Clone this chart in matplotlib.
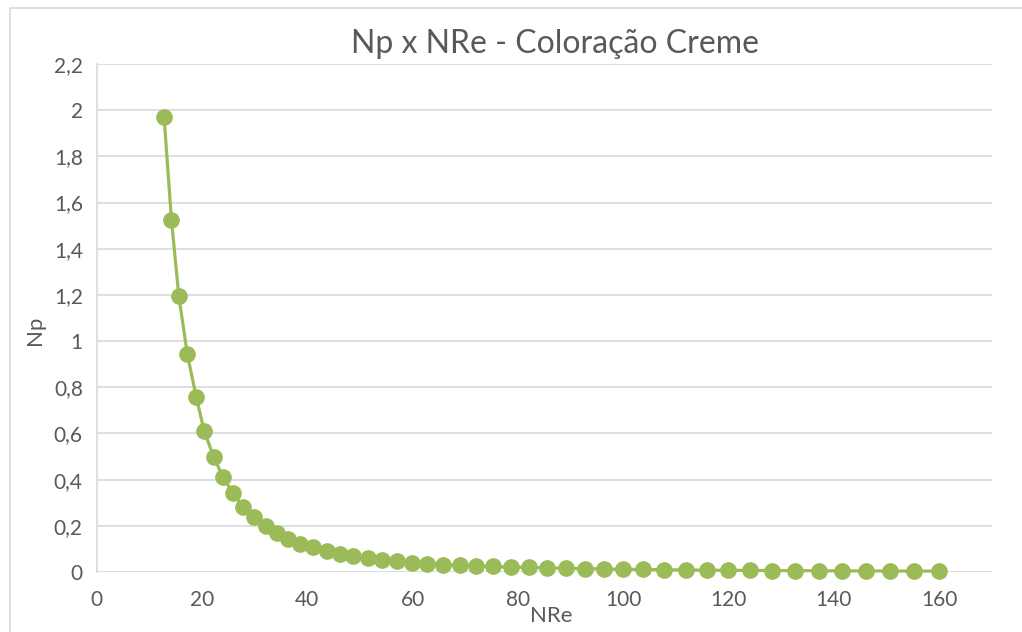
import matplotlib
matplotlib.use('Agg')
import matplotlib.pyplot as plt
from matplotlib.patches import Rectangle
from matplotlib.ticker import FuncFormatter, MultipleLocator

# valores
nre = [12.8, 14.2, 15.6, 17.2, 18.9, 20.4, 22.2, 24.0, 25.9, 27.8,
       29.9, 32.1, 34.2, 36.4, 38.7, 41.1, 43.7, 46.2, 48.7, 51.5,
       54.2, 57.1, 59.9, 62.8, 65.8, 69.0, 72.0, 75.3, 78.6, 82.1,
       85.6, 89.1, 92.7, 96.4, 100.0, 103.8, 107.7, 111.9, 115.9, 120.0,
       124.1, 128.3, 132.7, 137.1, 141.6, 146.1, 150.7, 155.3, 160.0]
np_vals = [1.971, 1.525, 1.195, 0.945, 0.759, 0.612, 0.499, 0.411, 0.341, 0.283,
           0.237, 0.199, 0.170, 0.144, 0.121, 0.107, 0.091, 0.078, 0.069, 0.059,
           0.052, 0.046, 0.040, 0.035, 0.032, 0.029, 0.026, 0.024, 0.022, 0.020,
           0.018, 0.016, 0.015, 0.013, 0.012, 0.011, 0.010, 0.009, 0.008, 0.0075,
           0.007, 0.0065, 0.006, 0.0055, 0.005, 0.0047, 0.0044, 0.0041, 0.0038]

title = 'Np x NRe - Coloração Creme'
green = '#9BBB59'
grey_txt = '#595959'
grid_col = '#D9D9D9'

plt.rcParams['font.family'] = ['Lato', 'DejaVu Sans']

fig = plt.figure(figsize=(10.22, 6.32), dpi=100)
fig.patches.append(Rectangle((10 / 1022, -0.1), 1.2, 1 - 8 / 632 + 0.1,
                             transform=fig.transFigure, fill=False,
                             edgecolor='#D9D9D9', linewidth=1.2))

ax = fig.add_axes([0.0946, 0.0949, 0.9704 - 0.0946, 0.8987 - 0.0949])
ax.plot(nre, np_vals, color=green, linewidth=2.3, marker='o',
        markersize=11, markerfacecolor=green, markeredgecolor=green,
        zorder=3, clip_on=False)

ax.set_xlim(0, 170)
ax.set_ylim(0, 2.2)
ax.yaxis.set_major_locator(MultipleLocator(0.2))
ax.set_xticks([0, 20, 40, 60, 80, 100, 120, 140, 160])

def comma(v, pos):
    s = '%.1f' % v
    if s.endswith('.0'):
        s = s[:-2]
    return s.replace('.', ',')

ax.yaxis.set_major_formatter(FuncFormatter(comma))
ax.grid(axis='y', color=grid_col, linewidth=1.2, zorder=0)
ax.set_axisbelow(True)
for side in ['top', 'right', 'bottom']:
    ax.spines[side].set_visible(False)
ax.spines['left'].set_color(grid_col)
ax.spines['left'].set_linewidth(1.2)
ax.tick_params(length=0, labelsize=15, colors=grey_txt, pad=10)
ax.tick_params(axis='x', pad=13)

fig.text(555 / 1022, 1 - 44 / 632, title, ha='center', va='center',
         fontsize=23, color=grey_txt)
fig.text(551 / 1022, 1 - 616 / 632, 'NRe', ha='center', va='center',
         fontsize=16, color=grey_txt)
fig.text(35 / 1022, 1 - 330 / 632, 'Np', ha='center', va='center',
         fontsize=16, color=grey_txt, rotation=90)

plt.savefig('out.png', dpi=100)
